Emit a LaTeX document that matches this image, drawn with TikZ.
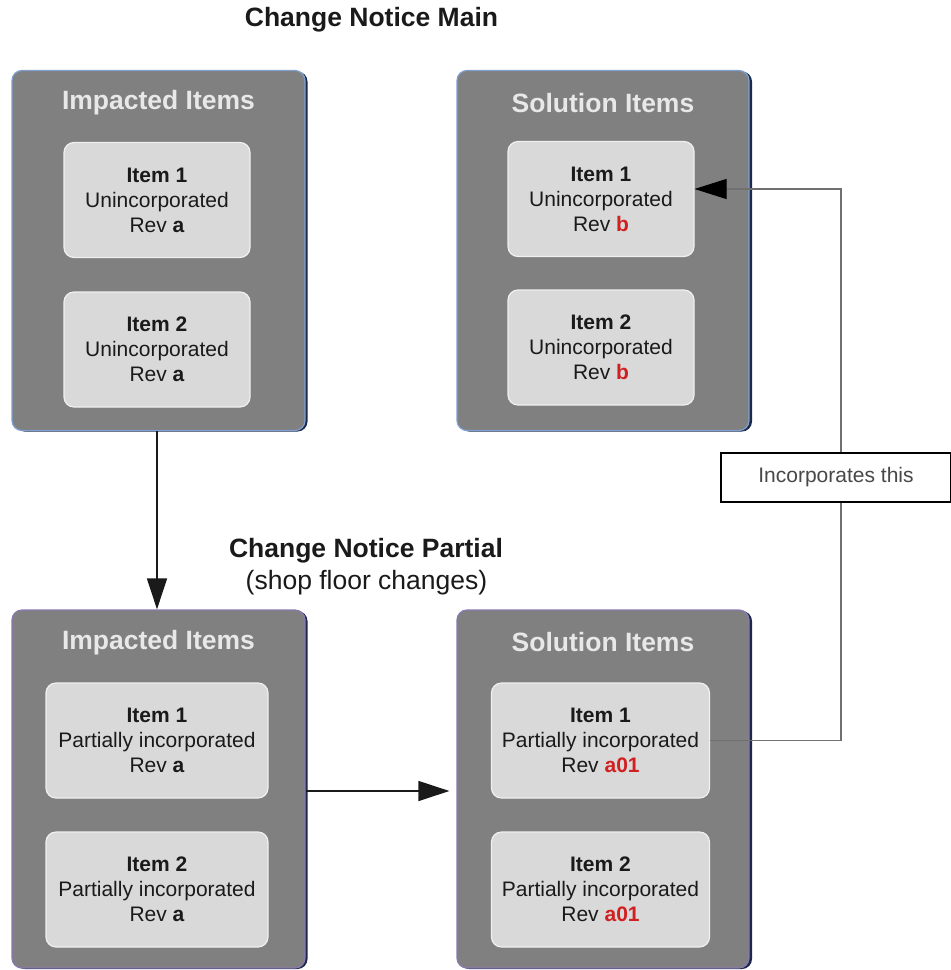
\documentclass[tikz,border=0pt]{standalone}
\usepackage{fontspec}
\setmainfont{Liberation Sans}
\usepackage{xcolor}
\usetikzlibrary{arrows.meta}
\definecolor{panelfill}{HTML}{808080}
\definecolor{itemfill}{HTML}{D9D9D9}
\definecolor{itemedge}{HTML}{F0F0F0}
\definecolor{mainedge}{HTML}{7F9FCF}
\definecolor{partedge}{HTML}{8A78B0}
\definecolor{paneldark}{HTML}{1C2A4A}
\definecolor{titlegray}{HTML}{E8E8E8}
\definecolor{inkdark}{HTML}{1A1A1A}
\definecolor{revred}{HTML}{D02020}
\definecolor{linkgray}{HTML}{707070}
\newcommand{\revtxt}[1]{\textcolor{revred}{\textbf{#1}}}

\begin{document}
\begin{tikzpicture}[
  x=1pt,
  y=-1pt,
  every node/.style={inner sep=0pt, inkdark},
  panel/.style={fill=panelfill, line width=1.2pt, rounded corners=10pt,
    minimum width=293pt, minimum height=360pt},
  shadow/.style={fill=paneldark, rounded corners=10pt,
    minimum width=293pt, minimum height=360pt},
  paneltitle/.style={font=\fontsize{26.5}{31}\selectfont\bfseries, titlegray},
  itembox/.style={fill=itemfill, draw=itemedge, line width=1.2pt,
    rounded corners=10pt, align=center, minimum height=115pt,
    font=\fontsize{21}{25}\selectfont},
  heading/.style={font=\fontsize{26.5}{31}\selectfont, align=center},
  flow/.style={inkdark, line width=1.4pt, -{Triangle[length=31pt,width=20pt]}},
  link/.style={linkgray, line width=1.2pt,
    -{Triangle[length=32pt,width=20pt,black]}},
  tag/.style={draw=black, fill=white, line width=1.4pt,
    minimum width=230pt, minimum height=49pt,
    font=\fontsize{21}{25}\selectfont, text=inkdark!80}
]
  \useasboundingbox (0,0) rectangle (951,970);

  % ================= headings ===========================================
  \node[heading] (mainhead) at (371.5,20) {\bfseries Change Notice Main};
  \node[heading] (parthead) at (366,551) {\bfseries Change Notice Partial};
  \node[heading] (partsub) at (366.5,583) {(shop floor changes)};

  % ================= change notice main =================================
  \node[shadow] at (161,251.5) {};
  \node[shadow] at (605.5,251.5) {};
  \node[panel, draw=mainedge] (impA) at (158.5,250.5) {};
  \node[panel, draw=mainedge, minimum width=292pt] (solA) at (603,250.5) {};

  \node[paneltitle] at ([yshift=-33pt]impA.north) {Impacted Items};
  \node[paneltitle] at ([yshift=-33pt]solA.north) {Solution Items};

  \node[itembox, minimum width=186pt] (itA1) at (157,200)
    {\textbf{Item 1}\\Unincorporated\\Rev \textbf{a}};
  \node[itembox, minimum width=186pt] (itA2) at (157,349.5)
    {\textbf{Item 2}\\Unincorporated\\Rev \textbf{a}};
  \node[itembox, minimum width=186pt] (soA1) at (601,199)
    {\textbf{Item 1}\\Unincorporated\\Rev \revtxt{b}};
  \node[itembox, minimum width=186pt] (soA2) at (601,347.5)
    {\textbf{Item 2}\\Unincorporated\\Rev \revtxt{b}};

  % ================= change notice partial ==============================
  \node[shadow, minimum height=358pt] at (161,790) {};
  \node[shadow, minimum height=358pt] at (605.5,790) {};
  \node[panel, draw=partedge, minimum height=358pt] (impB) at (158.5,789) {};
  \node[panel, draw=partedge, minimum height=358pt, minimum width=292pt]
    (solB) at (603,789) {};

  \node[paneltitle] at ([yshift=-33pt]impB.north) {Impacted Items};
  \node[paneltitle] at ([yshift=-33pt]solB.north) {Solution Items};

  \node[itembox, minimum width=222pt] (itB1) at (157,740.5)
    {\textbf{Item 1}\\Partially incorporated\\Rev \textbf{a}};
  \node[itembox, minimum width=222pt] (itB2) at (157,889.5)
    {\textbf{Item 2}\\Partially incorporated\\Rev \textbf{a}};
  \node[itembox, minimum width=218pt] (soB1) at (600.5,740.5)
    {\textbf{Item 1}\\Partially incorporated\\Rev \revtxt{a01}};
  \node[itembox, minimum width=218pt] (soB2) at (600.5,889.5)
    {\textbf{Item 2}\\Partially incorporated\\Rev \revtxt{a01}};

  % ================= connectors =========================================
  \draw[flow] (itA2.south |- impA.south) -- (itA2.south |- impB.north);
  \draw[flow, shorten >=7pt] ([yshift=-2pt]impB.east) -- ([yshift=-2pt]solB.west);

  \coordinate (elbow) at (841,189);
  \draw[link] (soB1.east) -| (elbow) -- (soA1.east |- elbow);
  \node[tag] (incorp) at (836,477.5) {Incorporates this};
\end{tikzpicture}
\end{document}
